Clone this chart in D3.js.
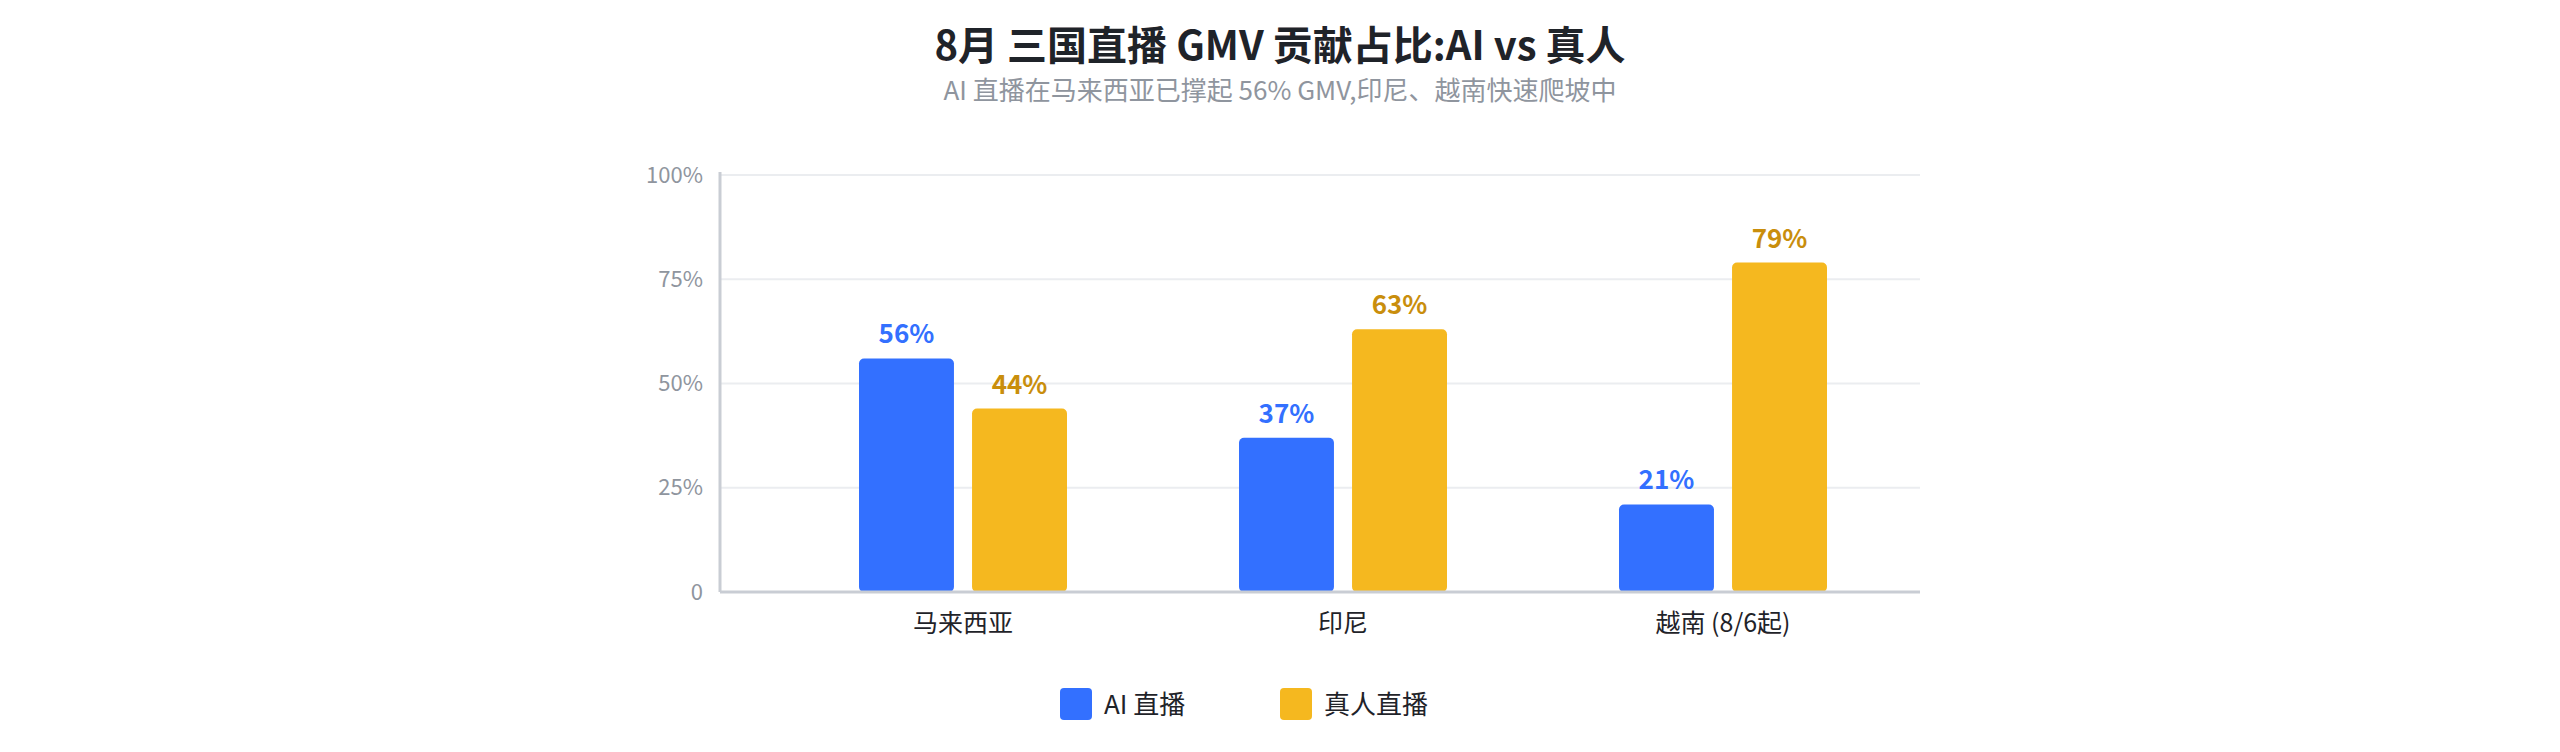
<!DOCTYPE html>
<html>
<head>
<meta charset="utf-8">
<script src="https://cdn.jsdelivr.net/npm/d3@7"></script>
<style>
  body { margin: 0; background: #fff; }
  svg { display: block; font-family: "Noto Sans CJK SC", "Noto Sans", sans-serif; }
</style>
</head>
<body>
<div id="chart"></div>
<script>
// data
var countries = ["马来西亚", "印尼", "越南 (8/6起)"];
var series = ["AI 直播", "真人直播"];
var aiShare = [56, 37, 21];
var humanShare = [44, 63, 79];
var yTicks = [0, 25, 50, 75, 100];

var W = 2560, H = 752;
var colours = ["#3370ff", "#f5b81f"];
var labelColours = ["#3370ff", "#c98e0c"];

var svg = d3.select("#chart").append("svg")
    .attr("width", W)
    .attr("height", H);

// titles
svg.append("text")
    .text("8月 三国直播 GMV 贡献占比:AI vs 真人")
    .attr("x", W / 2).attr("y", 60)
    .attr("text-anchor", "middle")
    .attr("font-size", 40)
    .attr("font-weight", 700)
    .attr("fill", "#1f2329");

svg.append("text")
    .text("AI 直播在马来西亚已撑起 56% GMV,印尼、越南快速爬坡中")
    .attr("x", W / 2).attr("y", 100)
    .attr("text-anchor", "middle")
    .attr("font-size", 26)
    .attr("fill", "#8f959e");

// scales
var plotLeft = 720, plotRight = 1920, plotTop = 175, plotBottom = 592;

var y = d3.scaleLinear().domain([0, 100]).range([plotBottom, plotTop]);

var x0 = d3.scaleBand().domain(countries).range([773, 1913]).padding(0);
var x1 = d3.scaleBand().domain(series).range([x0.bandwidth() / 2 - 104, x0.bandwidth() / 2 + 104]).paddingInner(0.16);

var rows = countries.map(function(c, i) {
    return { country: c, values: [aiShare[i], humanShare[i]] };
});

// grid
svg.append("g").selectAll("line")
    .data(yTicks.filter(function(d) { return d > 0; }))
    .enter().append("line")
    .attr("x1", plotLeft).attr("x2", plotRight)
    .attr("y1", function(d) { return y(d); })
    .attr("y2", function(d) { return y(d); })
    .attr("stroke", "#ebedf0")
    .attr("stroke-width", 2);

// y axis
var yAxis = svg.append("g")
    .attr("transform", "translate(" + plotLeft + ",0)")
    .call(d3.axisLeft(y).tickValues(yTicks)
        .tickFormat(function(d) { return d === 0 ? "0" : d + "%"; })
        .tickSize(0).tickPadding(17));
yAxis.select(".domain").remove();
yAxis.selectAll("text")
    .attr("font-size", 22)
    .attr("fill", "#8f959e")
    .attr("font-family", "Noto Sans CJK SC");

svg.append("line")
    .attr("x1", plotLeft).attr("x2", plotLeft)
    .attr("y1", plotTop - 3).attr("y2", plotBottom)
    .attr("stroke", "#c9cdd4").attr("stroke-width", 3);

// bars
var groups = svg.append("g").selectAll("g")
    .data(rows)
    .enter().append("g")
    .attr("transform", function(d) { return "translate(" + x0(d.country) + ",0)"; });

groups.selectAll("rect")
    .data(function(d) { return d.values.map(function(v, i) { return { key: series[i], value: v, i: i }; }); })
    .enter().append("rect")
    .attr("x", function(d) { return x1(d.key); })
    .attr("y", function(d) { return y(d.value); })
    .attr("width", x1.bandwidth())
    .attr("height", function(d) { return plotBottom - y(d.value); })
    .attr("rx", 5)
    .attr("fill", function(d) { return colours[d.i]; });

groups.selectAll(".value_label")
    .data(function(d) { return d.values.map(function(v, i) { return { key: series[i], value: v, i: i }; }); })
    .enter().append("text")
    .attr("class", "value_label")
    .text(function(d) { return d.value + "%"; })
    .attr("x", function(d) { return x1(d.key) + x1.bandwidth() / 2; })
    .attr("y", function(d) { return y(d.value) - 15; })
    .attr("text-anchor", "middle")
    .attr("font-size", 26)
    .attr("font-weight", 700)
    .attr("fill", function(d) { return labelColours[d.i]; });

// x axis
svg.append("line")
    .attr("x1", plotLeft).attr("x2", plotRight)
    .attr("y1", plotBottom).attr("y2", plotBottom)
    .attr("stroke", "#c9cdd4").attr("stroke-width", 3);

var xAxis = svg.append("g")
    .attr("transform", "translate(0," + plotBottom + ")")
    .call(d3.axisBottom(x0).tickSize(0).tickPadding(22));
xAxis.select(".domain").remove();
xAxis.selectAll("text")
    .attr("font-size", 25)
    .attr("fill", "#1f2329")
    .attr("font-family", "Noto Sans CJK SC");

// legend
var legend = svg.append("g").selectAll("g")
    .data(series)
    .enter().append("g")
    .attr("transform", function(d, i) { return "translate(" + (1060 + i * 220) + ",688)"; });

legend.append("rect")
    .attr("width", 32).attr("height", 32)
    .attr("rx", 4)
    .attr("fill", function(d, i) { return colours[i]; });

legend.append("text")
    .text(function(d) { return d; })
    .attr("x", 44).attr("y", 26)
    .attr("font-size", 26)
    .attr("fill", "#1f2329");
</script>
</body>
</html>
